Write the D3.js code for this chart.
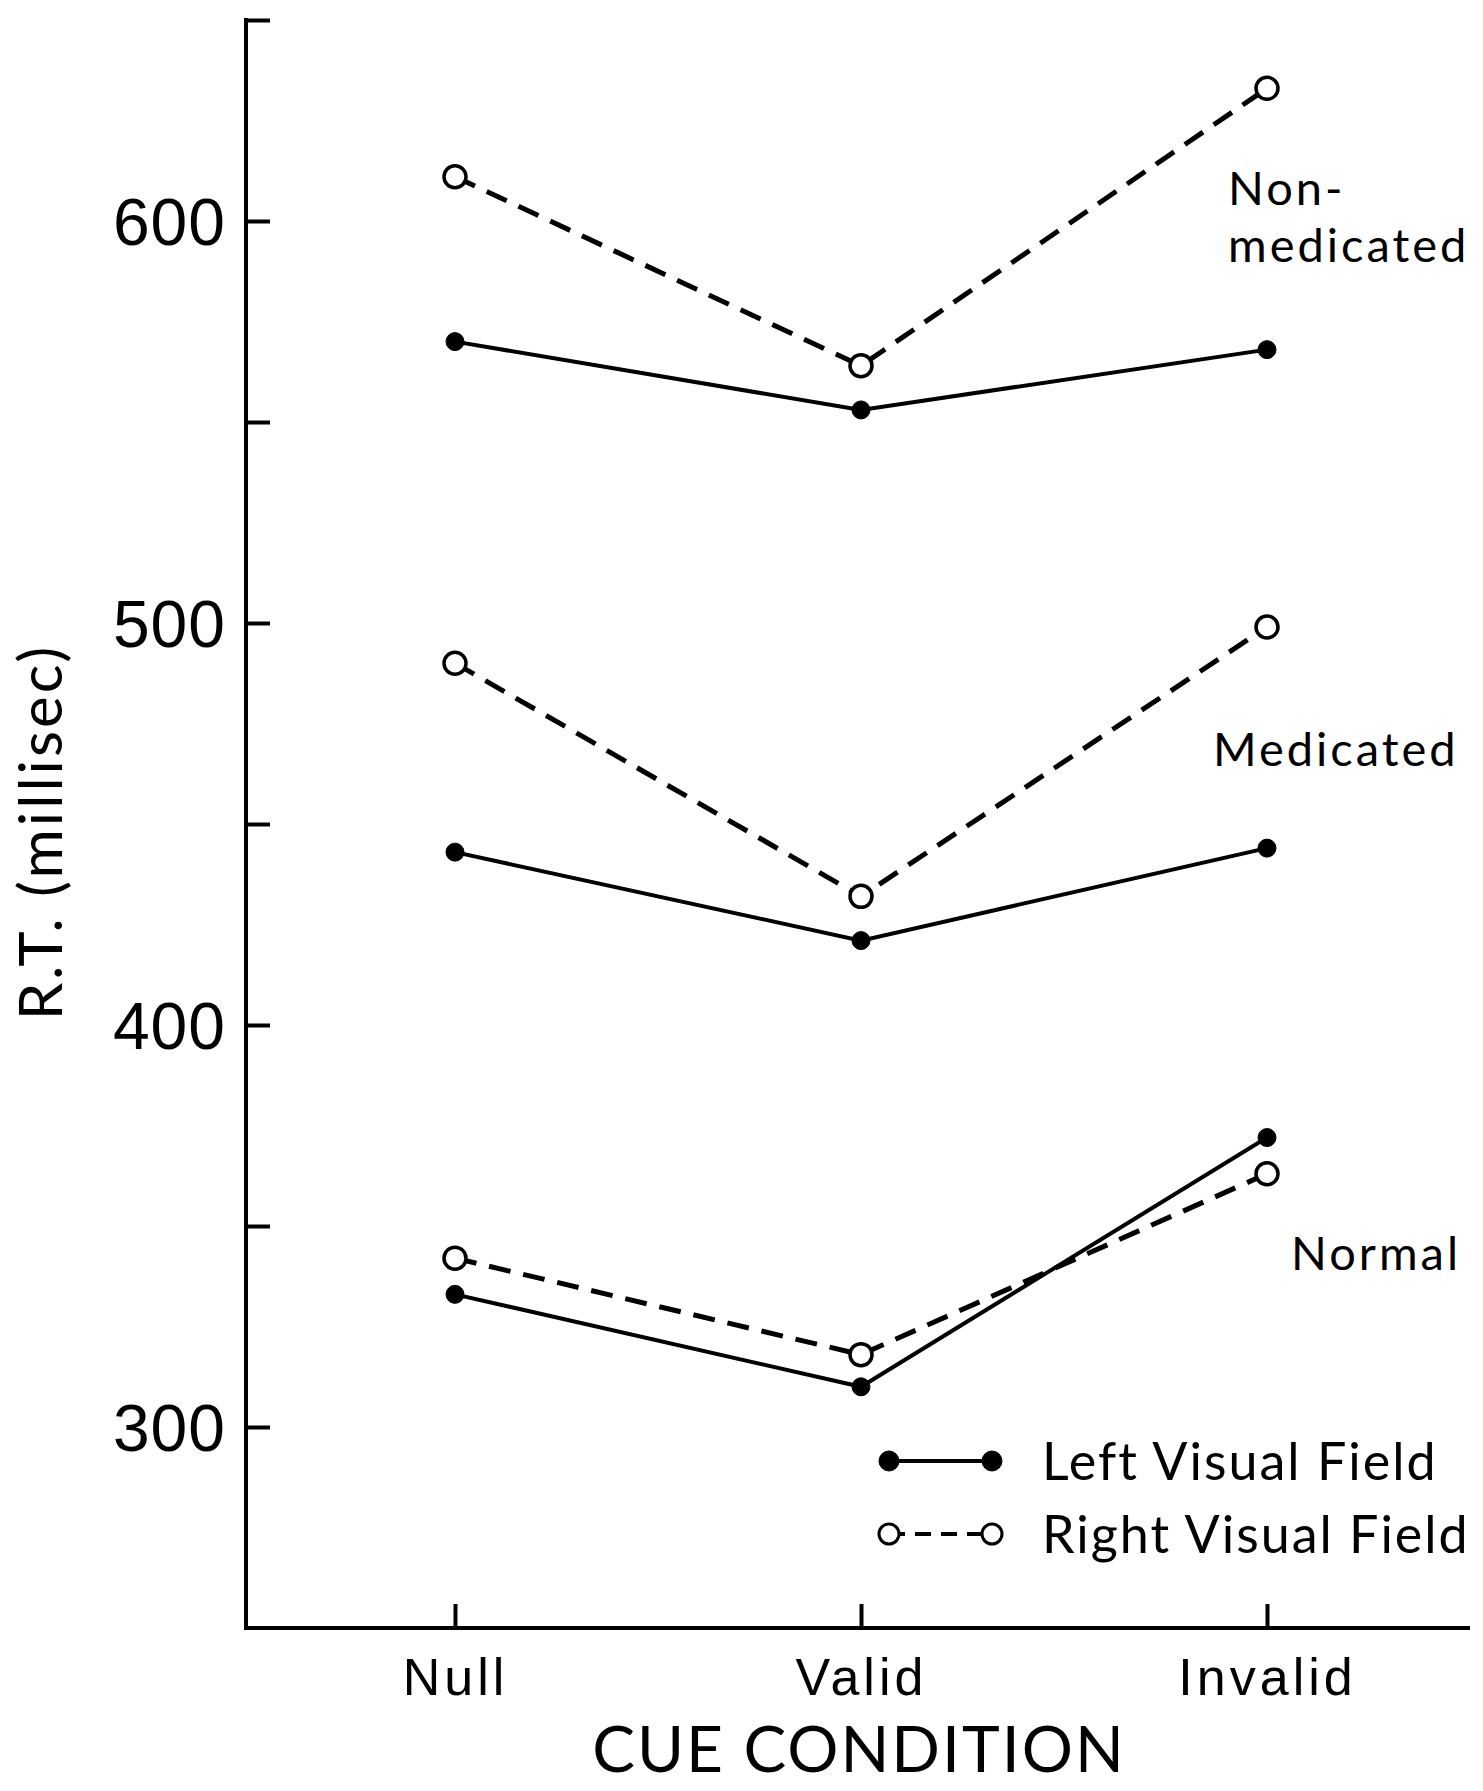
<!DOCTYPE html>
<html>
<head>
<meta charset="utf-8">
<script src="https://cdn.jsdelivr.net/npm/d3@7"></script>
<style>
  body { margin: 0; background: #fff; }
  svg { display: block; font-family: Lato, "Noto Sans", sans-serif; }
</style>
</head>
<body>
<script>
// cue conditions on the x axis
const categories = ["Null", "Valid", "Invalid"];

// R.T. in millisec
const nonMedLeft = [570, 553, 568];
const nonMedRight = [611, 564, 633];
const medLeft = [443, 421, 444];
const medRight = [490, 432, 499];
const normLeft = [333, 310, 372];
const normRight = [342, 318, 363];

const yTicks = [300, 350, 400, 450, 500, 550, 600, 650];
const yLabelled = [300, 400, 500, 600];

const groupLabels = [
  { lines: ["Non-", "medicated"], value: 604, x: 1228 },
  { lines: ["Medicated"], value: 464.5, x: 1213 },
  { lines: ["Normal"], value: 339, x: 1291 }
];

const series = [
  { values: nonMedLeft, field: "left" },
  { values: nonMedRight, field: "right" },
  { values: medLeft, field: "left" },
  { values: medRight, field: "right" },
  { values: normLeft, field: "left" },
  { values: normRight, field: "right" }
];

const W = 1483, H = 1791;
const x0 = 246, yBottom = 1628;

const svg = d3.select("body").append("svg")
  .attr("width", W)
  .attr("height", H);

const x = d3.scalePoint()
  .domain(categories)
  .range([252, 1470])
  .padding(0.5);

const y = d3.scaleLinear()
  .domain([250, 650])
  .range([yBottom, 20]);

// y axis, ticks pointing inward
const yAxis = svg.append("g")
  .attr("transform", `translate(${x0},0)`)
  .call(d3.axisLeft(y)
    .tickValues(yTicks)
    .tickSize(-24)
    .tickPadding(20)
    .tickFormat(d => yLabelled.includes(d) ? d : ""));
yAxis.select(".domain").remove();
yAxis.selectAll(".tick line").attr("stroke", "#000").attr("stroke-width", 4);
yAxis.selectAll(".tick text")
  .attr("fill", "#000")
  .style("font-size", "66px")
  .style("letter-spacing", "1px")
  .attr("dy", "0.36em");

svg.append("line")
  .attr("x1", x0).attr("x2", x0)
  .attr("y1", y(650) - 2).attr("y2", yBottom + 2)
  .attr("stroke", "#000").attr("stroke-width", 4);

// x axis
const xAxis = svg.append("g")
  .attr("transform", `translate(0,${yBottom})`)
  .call(d3.axisBottom(x).tickSize(-24).tickPadding(30));
xAxis.select(".domain").remove();
xAxis.selectAll(".tick line").attr("stroke", "#000").attr("stroke-width", 4);
xAxis.selectAll(".tick text")
  .attr("fill", "#000")
  .style("font-size", "52px")
  .style("letter-spacing", "4px");

svg.append("line")
  .attr("x1", x0 - 2).attr("x2", 1470)
  .attr("y1", yBottom).attr("y2", yBottom)
  .attr("stroke", "#000").attr("stroke-width", 4);

// axis titles
svg.append("text")
  .attr("transform", `translate(62,${(y(650) + yBottom) / 2 + 8}) rotate(-90)`)
  .attr("text-anchor", "middle")
  .style("font-size", "60px")
  .style("letter-spacing", "3px")
  .text("R.T. (millisec)");

svg.append("text")
  .attr("x", 859)
  .attr("y", 1772)
  .attr("text-anchor", "middle")
  .style("font-size", "64px")
  .style("letter-spacing", "2px")
  .text("CUE CONDITION");

// lines
const line = d3.line()
  .x((d, i) => x(categories[i]))
  .y(d => y(d));

series.forEach(s => {
  svg.append("path")
    .datum(s.values)
    .attr("d", line)
    .attr("fill", "none")
    .attr("stroke", "#000")
    .attr("stroke-width", s.field === "left" ? 4 : 5)
    .attr("stroke-dasharray", s.field === "left" ? null : "22,13");
});

series.forEach(s => {
  svg.selectAll(null)
    .data(s.values)
    .enter()
    .append("circle")
    .attr("cx", (d, i) => x(categories[i]))
    .attr("cy", d => y(d))
    .attr("r", s.field === "left" ? 9 : 11)
    .attr("fill", s.field === "left" ? "#000" : "#fff")
    .attr("stroke", "#000")
    .attr("stroke-width", s.field === "left" ? 1 : 3.5);
});

// group labels
groupLabels.forEach(g => {
  const t = svg.append("text")
    .attr("x", g.x)
    .attr("y", y(g.value))
    .style("font-size", "47px")
    .style("letter-spacing", "3px");
  g.lines.forEach((l, i) => {
    t.append("tspan")
      .attr("x", g.x)
      .attr("dy", i === 0 ? 0 : 57)
      .text(l);
  });
});

// legend
const legend = [
  { label: "Left Visual Field", field: "left" },
  { label: "Right Visual Field", field: "right" }
];
const lg = svg.append("g");
legend.forEach((l, i) => {
  const ly = 1461 + i * 73;
  lg.append("line")
    .attr("x1", 889).attr("x2", 992)
    .attr("y1", ly).attr("y2", ly)
    .attr("stroke", "#000")
    .attr("stroke-width", 4)
    .attr("stroke-dasharray", l.field === "left" ? null : "16,10");
  [889, 992].forEach(cx => {
    lg.append("circle")
      .attr("cx", cx).attr("cy", ly)
      .attr("r", 10)
      .attr("fill", l.field === "left" ? "#000" : "#fff")
      .attr("stroke", "#000")
      .attr("stroke-width", l.field === "left" ? 1 : 3);
  });
  lg.append("text")
    .attr("x", 1042)
    .attr("y", ly + 19)
    .style("font-size", "52px")
    .style("letter-spacing", "2px")
    .text(l.label);
});
</script>
</body>
</html>
